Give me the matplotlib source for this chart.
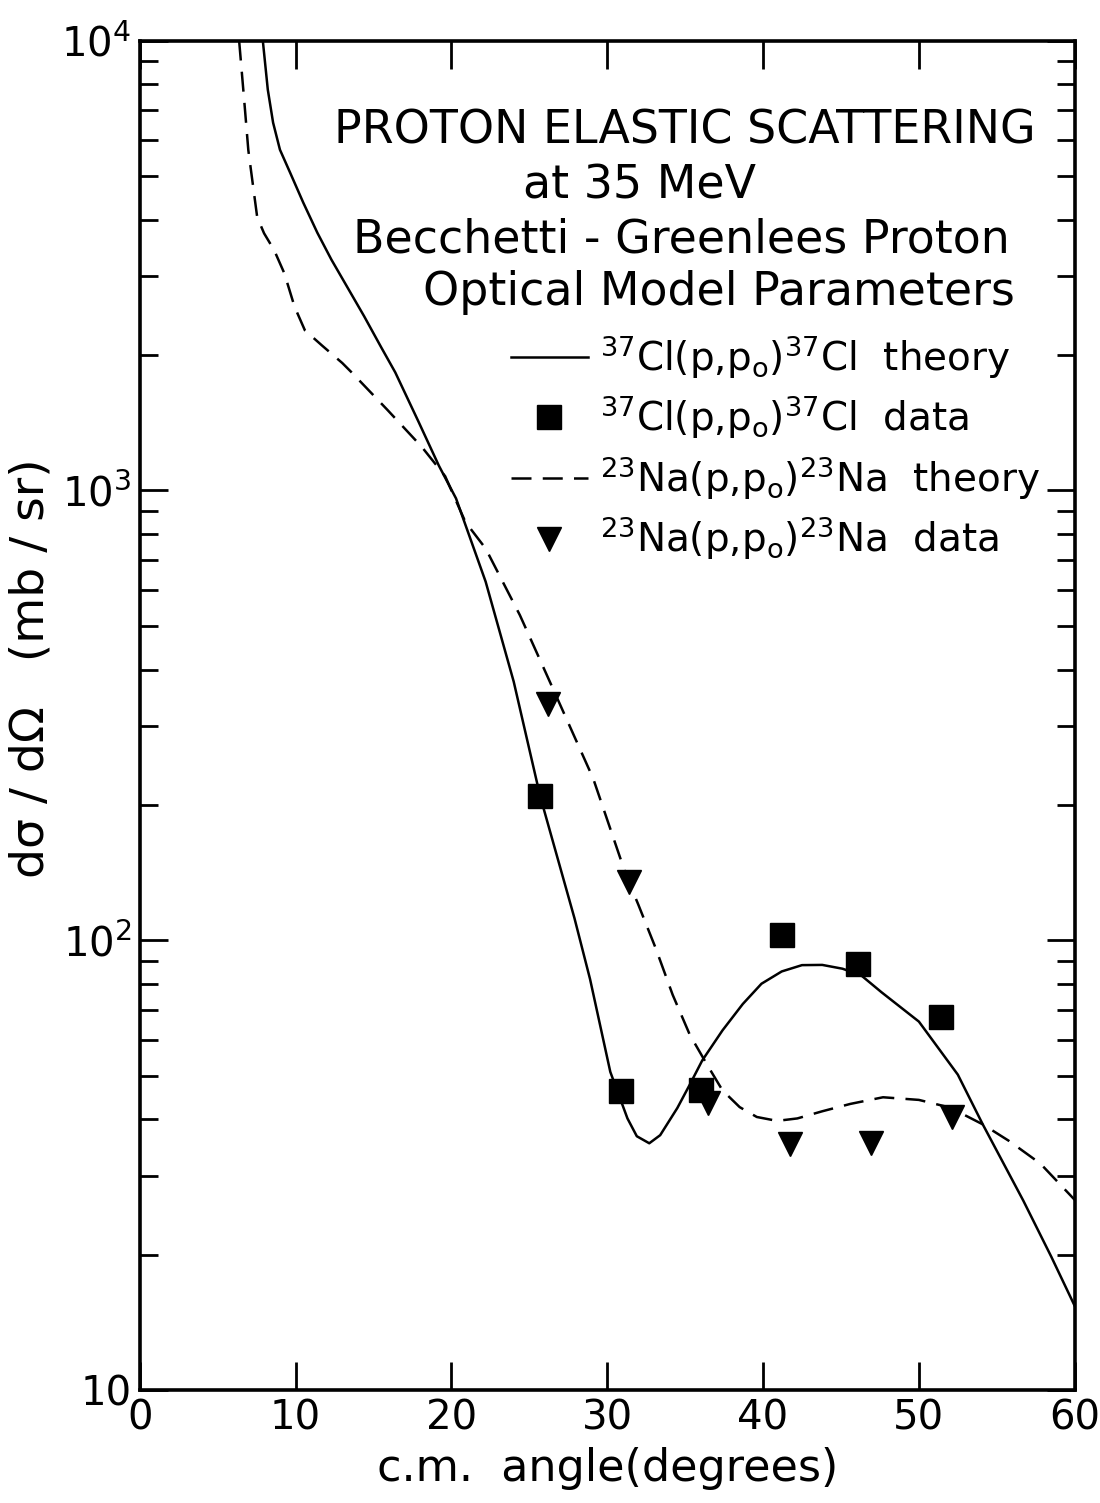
import matplotlib
matplotlib.use("Agg")
from matplotlib import pyplot as plt
from matplotlib.lines import Line2D
from matplotlib.ticker import FixedLocator, LogLocator, NullFormatter

plt.rcParams["font.family"] = ["DejaVu Sans"]
plt.rcParams["mathtext.default"] = "regular"

# 37Cl theory curve (angle in degrees, cross section in mb/sr)
cl_theory_angle = [7.9, 8.22, 8.56, 9.0, 9.66, 10.5, 11.4, 12.3, 13.3, 14.4,
                   15.5, 16.4, 17.9, 19.2, 20.3, 22.2, 24.0, 25.7, 27.9, 28.9,
                   30.2, 31.3, 31.9, 32.7, 33.4, 34.5, 35.3, 36.1, 37.4, 38.7,
                   39.9, 41.2, 42.5, 43.8, 45.1, 46.3, 47.6, 50.0, 52.5, 54.1,
                   56.7, 58.5, 60.0]
cl_theory = [10000, 7780, 6570, 5720, 5080, 4360, 3740, 3260, 2840, 2440,
             2080, 1830, 1420, 1135, 960, 627, 376, 209, 112, 82,
             51, 40.2, 36.7, 35.4, 36.9, 42.4, 47.8, 54.1, 63.1, 72.2,
             80.1, 85.3, 88.1, 88.2, 86.5, 83.6, 76.7, 66, 50.3, 39,
             26.4, 19.8, 15.4]

# 23Na theory curve
na_theory_angle = [6.38, 6.74, 6.97, 7.31, 7.54, 7.98, 8.63, 9.28, 9.94, 10.6,
                   11.7, 13.0, 13.6, 15.9, 18.1, 19.6, 20.9, 22.2, 24.4, 26.3,
                   29.1, 31.2, 32.0, 33.1, 34.2, 35.3, 36.4, 37.4, 38.5, 39.6,
                   40.9, 42.2, 43.8, 45.6, 47.7, 50.0, 52.0, 54.1, 55.8, 57.8,
                   60.0]
na_theory = [10000, 7130, 5710, 4650, 4050, 3730, 3420, 3040, 2560, 2270,
             2100, 1920, 1830, 1510, 1250, 1076, 851, 743, 528, 377,
             229, 140, 120, 96.3, 75.7, 61.7, 53.0, 46.4, 42.6, 40.5,
             39.7, 40.2, 41.7, 43.3, 44.8, 44.2, 42.5, 39.0, 35.8, 31.9,
             26.5]

# measured points
cl_angle = [25.7, 30.9, 36.0, 41.2, 46.1, 51.4]
cl_data = [209, 46.2, 46.4, 103, 88.8, 67.7]
na_angle = [26.2, 31.4, 36.5, 41.7, 46.9, 52.1]
na_data = [335, 135, 43.6, 35.3, 35.5, 40.6]

x_ticks = [0, 10, 20, 30, 40, 50, 60]
y_ticks = [10, 100, 1000, 10000]
y_tick_labels = ["10", "$10^2$", "$10^3$", "$10^4$"]

title_lines = [
    ("PROTON ELASTIC SCATTERING", 0.583, 0.933),
    ("at 35 MeV", 0.535, 0.892),
    ("Becchetti - Greenlees Proton", 0.579, 0.852),
    ("Optical Model Parameters", 0.620, 0.813),
]

fig = plt.figure(figsize=(11, 15.03), dpi=100)
ax = fig.add_axes([0.127, 0.075, 0.85, 0.898])

dash = (0, (8, 4.5))
ax.plot(cl_theory_angle, cl_theory, color="black", lw=1.8)
ax.plot(na_theory_angle, na_theory, color="black", lw=1.8, linestyle=dash)
ax.plot(cl_angle, cl_data, linestyle="none", marker="s", ms=17, color="black")
ax.plot(na_angle, na_data, linestyle="none", marker="v", ms=17, color="black")

ax.set_yscale("log")
ax.set_xlim(0, 60)
ax.set_ylim(10, 10000)

ax.xaxis.set_major_locator(FixedLocator(x_ticks))
ax.set_xticklabels([str(t) for t in x_ticks])
ax.yaxis.set_major_locator(FixedLocator(y_ticks))
ax.set_yticklabels(y_tick_labels)
ax.yaxis.set_minor_locator(LogLocator(base=10, subs=range(2, 10)))
ax.yaxis.set_minor_formatter(NullFormatter())

ax.tick_params(which="major", direction="in", length=20, width=2,
               top=True, right=True, labelsize=29, pad=6)
ax.tick_params(which="minor", direction="in", length=13, width=2,
               left=True, right=True)
ax.tick_params(axis="x", which="minor", bottom=False, top=False)
for sp in ax.spines.values():
    sp.set_linewidth(2.6)

ax.set_xlabel("c.m.  angle(degrees)", fontsize=32, labelpad=6)
ax.set_ylabel("d\u03c3 / d\u03a9   (mb / sr)", fontsize=34)
ax.yaxis.set_label_coords(-0.092, 0.535)

for text, tx, ty in title_lines:
    ax.text(tx, ty, text, transform=ax.transAxes, ha="center", va="center",
            fontsize=33)

handles = [
    Line2D([], [], color="black", lw=1.8),
    Line2D([], [], color="black", linestyle="none", marker="s", ms=17),
    Line2D([], [], color="black", lw=1.8, linestyle=dash),
    Line2D([], [], color="black", linestyle="none", marker="v", ms=17),
]
labels = [
    r"$^{37}$Cl(p,p$_o$)$^{37}$Cl  theory",
    r"$^{37}$Cl(p,p$_o$)$^{37}$Cl  data",
    r"$^{23}$Na(p,p$_o$)$^{23}$Na  theory",
    r"$^{23}$Na(p,p$_o$)$^{23}$Na  data",
]
ax.legend(handles, labels, loc="upper left", bbox_to_anchor=(0.38, 0.795),
          frameon=False, fontsize=28, handlelength=2.0, handletextpad=0.3,
          labelspacing=0.33, borderaxespad=0)

fig.savefig("out.png", dpi=100)
